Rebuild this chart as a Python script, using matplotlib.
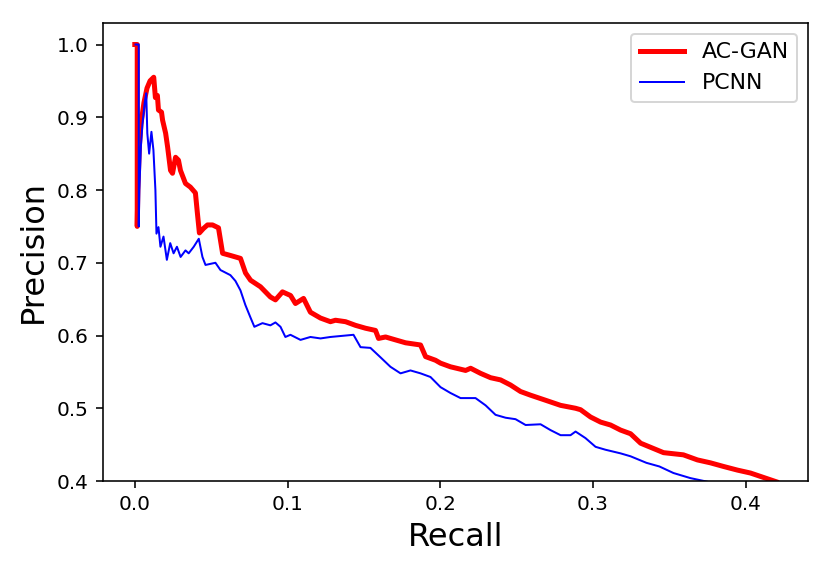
import matplotlib
matplotlib.use("Agg")
import matplotlib.pyplot as plt

# precision / recall points
recall_acgan = [0.0, 0.0016, 0.0016, 0.002, 0.003, 0.004, 0.006, 0.008, 0.010, 0.0124,
                0.0135, 0.0148, 0.0155, 0.0175, 0.0182, 0.0202, 0.0215, 0.0234, 0.0247, 0.0267,
                0.0286, 0.0299, 0.0332, 0.0364, 0.0397, 0.0410, 0.0423, 0.0449, 0.0476, 0.0509,
                0.0548, 0.0575, 0.0627, 0.0692, 0.0725, 0.0758, 0.0823, 0.0888, 0.0921, 0.0967,
                0.1020, 0.1052, 0.1105, 0.1150, 0.1216, 0.1281, 0.1314, 0.1380, 0.1445, 0.1511,
                0.1576, 0.1596, 0.1642, 0.1707, 0.1773, 0.1871, 0.1904, 0.1969, 0.2002, 0.2067,
                0.2166, 0.2199, 0.2264, 0.2330, 0.2395, 0.2460, 0.2526, 0.2591, 0.2690, 0.2788,
                0.2886, 0.2919, 0.2984, 0.3050, 0.3115, 0.3181, 0.3246, 0.3312, 0.3462, 0.3592,
                0.3684, 0.3769, 0.3855, 0.3946, 0.4031, 0.4200]
precision_acgan = [1.0, 1.0, 0.750, 0.800, 0.860, 0.890, 0.920, 0.940, 0.950, 0.955,
                   0.927, 0.930, 0.910, 0.907, 0.896, 0.878, 0.859, 0.827, 0.823, 0.845,
                   0.841, 0.827, 0.809, 0.804, 0.796, 0.768, 0.741, 0.747, 0.752, 0.752,
                   0.748, 0.713, 0.710, 0.706, 0.686, 0.676, 0.667, 0.653, 0.649, 0.660,
                   0.655, 0.644, 0.651, 0.632, 0.624, 0.619, 0.621, 0.619, 0.614, 0.610,
                   0.607, 0.596, 0.598, 0.594, 0.590, 0.587, 0.571, 0.566, 0.562, 0.557,
                   0.552, 0.555, 0.548, 0.542, 0.539, 0.532, 0.523, 0.518, 0.511, 0.504,
                   0.500, 0.498, 0.488, 0.481, 0.477, 0.470, 0.465, 0.452, 0.439, 0.436,
                   0.429, 0.425, 0.420, 0.415, 0.411, 0.399]

recall_pcnn = [0.0005, 0.0026, 0.0026, 0.003, 0.004, 0.005, 0.0065, 0.0075, 0.0082, 0.0094,
               0.0109, 0.0122, 0.0135, 0.0142, 0.0155, 0.0168, 0.0188, 0.0210, 0.0232, 0.0254,
               0.0276, 0.0300, 0.0332, 0.0353, 0.0386, 0.0419, 0.0443, 0.0463, 0.0528, 0.0561,
               0.0626, 0.0659, 0.0692, 0.0724, 0.0757, 0.0783, 0.0836, 0.0888, 0.0921, 0.0954,
               0.0986, 0.1019, 0.1085, 0.1150, 0.1216, 0.1281, 0.1432, 0.1478, 0.1543, 0.1609,
               0.1674, 0.1740, 0.1805, 0.1871, 0.1936, 0.2002, 0.2067, 0.2133, 0.2231, 0.2297,
               0.2362, 0.2428, 0.2493, 0.2559, 0.2657, 0.2722, 0.2788, 0.2853, 0.2886, 0.2951,
               0.3017, 0.3082, 0.3181, 0.3246, 0.3350, 0.3435, 0.3527, 0.3638, 0.3750, 0.3780]
precision_pcnn = [1.0, 1.0, 0.750, 0.800, 0.860, 0.890, 0.920, 0.933, 0.878, 0.850,
                  0.880, 0.855, 0.800, 0.740, 0.749, 0.722, 0.736, 0.704, 0.727, 0.713,
                  0.722, 0.708, 0.717, 0.713, 0.722, 0.733, 0.708, 0.697, 0.700, 0.690,
                  0.683, 0.675, 0.662, 0.642, 0.625, 0.612, 0.617, 0.614, 0.618, 0.612,
                  0.598, 0.601, 0.594, 0.598, 0.596, 0.598, 0.601, 0.584, 0.583, 0.570,
                  0.557, 0.548, 0.552, 0.548, 0.543, 0.529, 0.521, 0.514, 0.514, 0.504,
                  0.491, 0.487, 0.485, 0.477, 0.478, 0.470, 0.463, 0.463, 0.468, 0.459,
                  0.447, 0.443, 0.438, 0.434, 0.425, 0.420, 0.411, 0.404, 0.399, 0.397]

fig = plt.figure(figsize=(831 / 144, 570 / 144), dpi=144)
ax = fig.add_axes([0.1236, 0.1561, 0.8491, 0.8041])

ax.plot(recall_acgan, precision_acgan, color='red', linewidth=2.5, label='AC-GAN')
ax.plot(recall_pcnn, precision_pcnn, color='blue', linewidth=1.0, label='PCNN')

ax.set_ylim(0.4, 1.03)
ax.set_xlabel('Recall', fontsize=16)
ax.set_ylabel('Precision', fontsize=16)
ax.legend(loc='upper right', fontsize=11)

fig.savefig('out.png', dpi=144)
